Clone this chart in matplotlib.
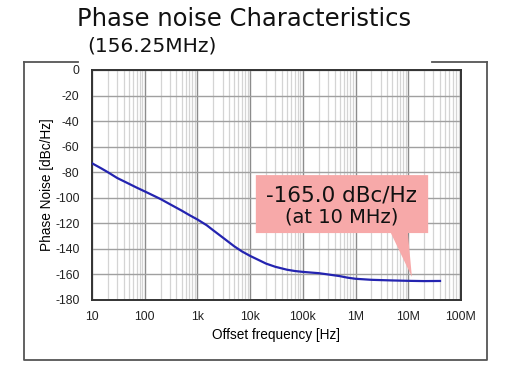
import matplotlib

matplotlib.use("Agg")
import matplotlib.pyplot as plt
from matplotlib.lines import Line2D
from matplotlib.patches import Polygon
from matplotlib.ticker import FixedLocator, LogLocator, NullFormatter

# offset frequency [Hz] and phase noise [dBc/Hz]
freq = [10, 15, 20, 30, 50, 70, 100, 150, 200, 300, 500, 700, 1e3, 1.5e3,
        2e3, 3e3, 5e3, 7e3, 1e4, 1.5e4, 2e4, 3e4, 5e4, 7e4, 1e5, 1.5e5,
        2e5, 3e5, 5e5, 7e5, 1e6, 2e6, 5e6, 1e7, 2e7, 4e7]
noise = [-73, -77, -80, -84.5, -89, -92, -95, -98.5, -101, -105, -110, -113.5,
         -117, -121.5, -125.5, -131, -138, -142, -145.5, -149, -151.5, -154,
         -156.3, -157.3, -158, -158.6, -159, -160, -161.3, -162.5, -163.4,
         -164.2, -164.7, -165, -165.2, -165.1]

x_ticks = [10, 100, 1e3, 1e4, 1e5, 1e6, 1e7, 1e8]
x_labels = ["10", "100", "1k", "10k", "100k", "1M", "10M", "100M"]
y_ticks = list(range(0, -181, -20))

W, H = 508, 371
fig = plt.figure(figsize=(W / 100, H / 100), dpi=100)
ax = fig.add_axes([92 / W, 1 - 300 / H, 369 / W, 230 / H])

ax.semilogx(freq, noise, color="#2424b0", lw=1.6, zorder=3)
ax.set_xlim(10, 1e8)
ax.set_ylim(-180, 0)

ax.xaxis.set_major_locator(FixedLocator(x_ticks))
ax.set_xticklabels(x_labels)
ax.xaxis.set_minor_locator(LogLocator(base=10, subs=range(2, 10), numticks=20))
ax.xaxis.set_minor_formatter(NullFormatter())
ax.set_yticks(y_ticks)
ax.set_yticklabels([str(v) for v in y_ticks])

ax.grid(which="major", axis="x", color="#8c8c8c", lw=1.0)
ax.grid(which="minor", axis="x", color="#d4d4d4", lw=0.9)
ax.grid(which="major", axis="y", color="#a0a0a0", lw=1.0)
ax.tick_params(which="both", length=0, labelsize=8.8, colors="#222222")
ax.tick_params(axis="x", pad=8)
ax.tick_params(axis="y", pad=9)
for s in ax.spines.values():
    s.set_color("#333333")
    s.set_linewidth(1.4)

font = "Liberation Sans"
for lbl in ax.get_xticklabels() + ax.get_yticklabels():
    lbl.set_family(font)
ax.set_xlabel("Offset frequency [Hz]", fontsize=9.8, family=font, labelpad=3.5)
ax.set_ylabel("Phase Noise [dBc/Hz]", fontsize=9.8, family=font, labelpad=1)

# callout box with pointer
callout = Polygon(
    [(0.444, 0.543), (0.911, 0.543), (0.911, 0.291), (0.856, 0.291),
     (0.867, 0.10), (0.810, 0.291), (0.444, 0.291)],
    closed=True, transform=ax.transAxes, facecolor="#f7a9a9",
    edgecolor="none", zorder=4)
ax.add_patch(callout)
ax.text(0.677, 0.455, "-165.0 dBc/Hz", transform=ax.transAxes, ha="center",
        va="center", fontsize=15.5, color="#111111", zorder=5)
ax.text(0.677, 0.36, "(at 10 MHz)", transform=ax.transAxes, ha="center",
        va="center", fontsize=14, color="#111111", zorder=5)

# outer frame around the chart
frame = dict(color="#555555", lw=1.3, transform=fig.transFigure)
fig.add_artist(Line2D([24 / W, 24 / W, 487 / W, 487 / W],
                      [1 - 62 / H, 1 - 360 / H, 1 - 360 / H, 1 - 62 / H], **frame))
fig.add_artist(Line2D([24 / W, 78 / W], [1 - 62 / H, 1 - 62 / H], **frame))
fig.add_artist(Line2D([432 / W, 487 / W], [1 - 62 / H, 1 - 62 / H], **frame))

fig.text(244 / W, 1 - 19 / H, "Phase noise Characteristics", ha="center",
         va="center", fontsize=17.5, color="#111111")
fig.text(87 / W, 1 - 46 / H, "(156.25MHz)", ha="left", va="center",
         fontsize=14.5, color="#111111")

fig.savefig("out.png", dpi=100)
plt.close(fig)
